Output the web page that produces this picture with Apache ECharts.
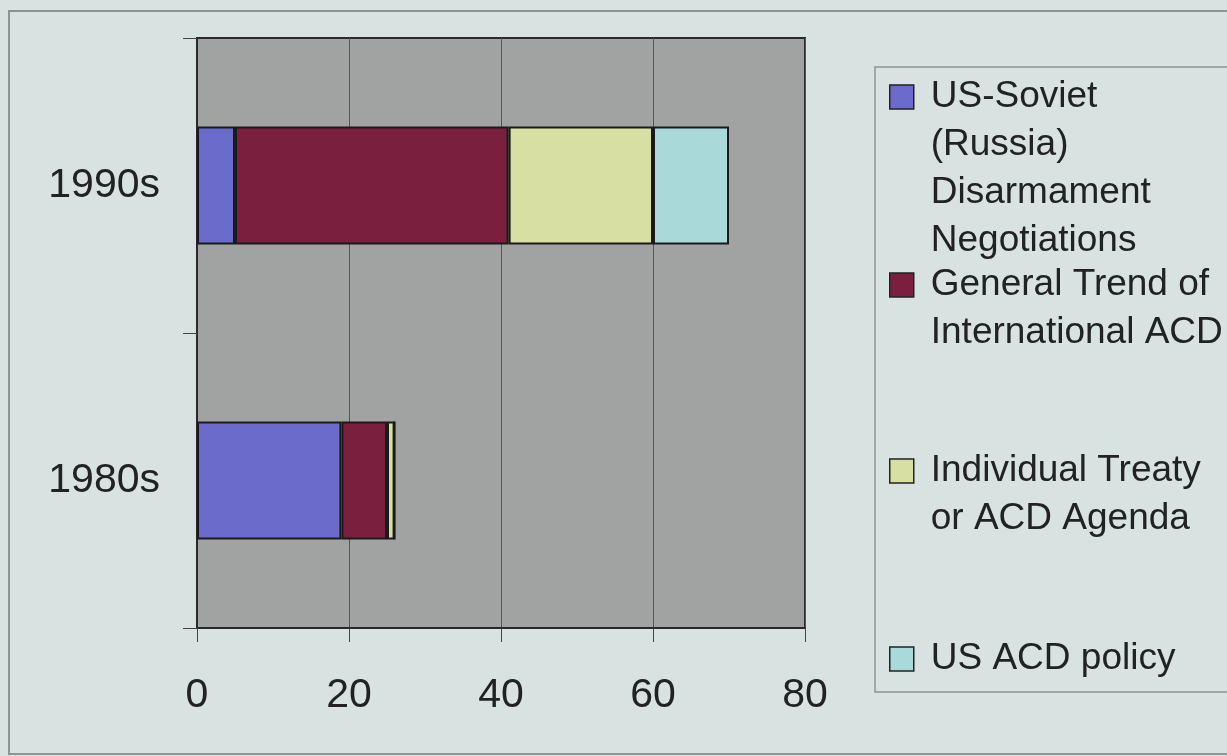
<!DOCTYPE html>
<html>
<head>
<meta charset="utf-8">
<script src="https://cdn.jsdelivr.net/npm/echarts@6/dist/echarts.min.js"></script>
<style>
  html, body { margin: 0; padding: 0; background: #d8e2e1; }
  #chart { width: 1227px; height: 756px; }
</style>
</head>
<body>
<div id="chart"></div>
<script>
// data
const categories = ['1980s', '1990s']
const usSoviet = [19, 5]
const generalTrend = [6, 36]
const treaty = [1, 19]
const usPolicy = [0, 10]
const xTicks = [0, 20, 40, 60, 80]

const seriesNames = [
  'US-Soviet (Russia) Disarmament Negotiations',
  'General Trend of International ACD',
  'Individual Treaty or ACD Agenda',
  'US ACD policy'
]
// wrapped the way the legend shows them
const legendLines = [
  ['US-Soviet', '(Russia)', 'Disarmament', 'Negotiations'],
  ['General Trend of', 'International ACD'],
  ['Individual Treaty', 'or ACD Agenda'],
  ['US ACD policy']
]
const colors = ['#6b6bcc', '#7a1f3e', '#d7e0a2', '#a9d9d8']
const legendCenters = [97, 285, 471, 659] // y of first text line

const LINE = 48

const chart = echarts.init(document.getElementById('chart'))

// the legend centres text on the icon, so pad with empty lines above
// to bring the first line level with the square
function makeLegend (i) {
  const n = legendLines[i].length
  const pad = new Array(n - 1).fill(' ')
  return {
    show: true,
    orient: 'vertical',
    left: 889,
    top: legendCenters[i] - 24 * (2 * n - 1),
    padding: 0,
    itemWidth: 24,
    itemHeight: 24,
    icon: 'rect',
    selectedMode: false,
    itemStyle: { borderColor: '#222', borderWidth: 1.5 },
    data: [seriesNames[i]],
    formatter: () => pad.concat(legendLines[i]).join('\n'),
    textStyle: {
      fontFamily: 'Liberation Sans, Arial, sans-serif',
      fontSize: 37,
      lineHeight: LINE,
      color: '#222',
      padding: [0, 0, 0, 12]
    }
  }
}

const values = [usSoviet, generalTrend, treaty, usPolicy]

const option = {
  backgroundColor: '#d8e2e1',
  animation: false,
  textStyle: { fontFamily: 'Liberation Sans, Arial, sans-serif' },
  graphic: [
    {
      type: 'rect',
      shape: { x: 9, y: 11, width: 1240, height: 743 },
      style: { fill: 'none', stroke: '#8c9494', lineWidth: 2 },
      z: -1
    },
    {
      type: 'rect',
      shape: { x: 875, y: 67, width: 380, height: 625 },
      style: { fill: 'none', stroke: '#8c9494', lineWidth: 1.5 },
      z: -1
    }
  ],
  legend: [0, 1, 2, 3].map(makeLegend),
  grid: {
    left: 197,
    top: 38,
    width: 608,
    height: 590,
    show: true,
    backgroundColor: '#a0a3a2',
    borderColor: '#2a2a2a',
    borderWidth: 2
  },
  xAxis: {
    type: 'value',
    min: 0,
    max: 80,
    interval: 20,
    axisLine: { show: true, lineStyle: { color: '#2a2a2a', width: 2 } },
    axisTick: { show: true, length: 14, lineStyle: { color: '#444' } },
    splitLine: { show: true, lineStyle: { color: '#555', width: 1 } },
    axisLabel: {
      fontSize: 41,
      color: '#222',
      margin: 47,
      formatter: v => (xTicks.includes(v) ? String(v) : '')
    }
  },
  yAxis: {
    type: 'category',
    data: categories,
    axisLine: { show: true, lineStyle: { color: '#2a2a2a', width: 2 } },
    axisTick: { show: true, length: 14, lineStyle: { color: '#444' } },
    axisLabel: { fontSize: 41, color: '#222', margin: 37 }
  },
  series: seriesNames.map((name, i) => ({
    name: name,
    type: 'bar',
    stack: 'total',
    barWidth: '40%',
    data: values[i],
    itemStyle: { color: colors[i], borderColor: '#1a1a1a', borderWidth: 2 }
  }))
}

chart.setOption(option)
</script>
</body>
</html>
